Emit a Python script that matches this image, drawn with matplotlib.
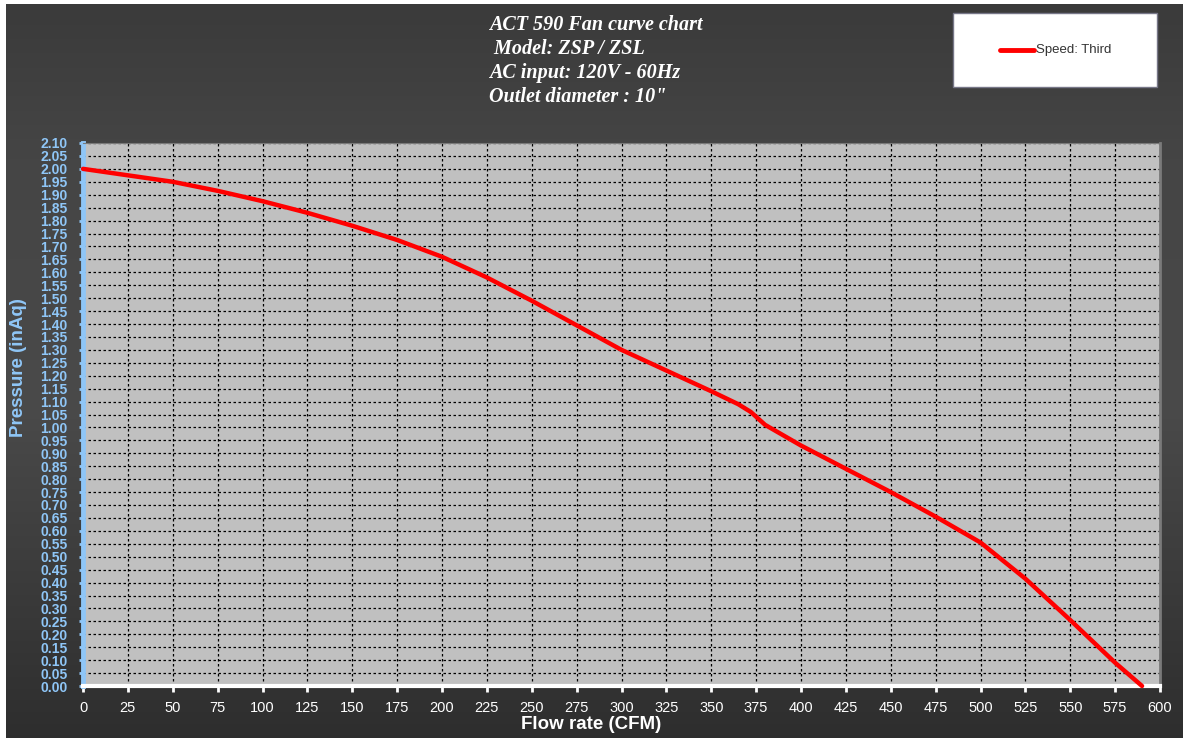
import numpy as np
import matplotlib.pyplot as plt
from matplotlib.patches import Rectangle

# fan curve values
flow = [0, 25, 50, 75, 100, 125, 150, 175, 200, 225, 250, 275, 300, 325, 350,
        365, 372, 380, 400, 425, 450, 475, 500, 525, 550, 575, 590]
pressure = [2.00, 1.975, 1.95, 1.915, 1.875, 1.83, 1.78, 1.725, 1.66, 1.58, 1.49,
            1.395, 1.30, 1.22, 1.14, 1.09, 1.06, 1.01, 0.93, 0.84, 0.75, 0.655,
            0.555, 0.415, 0.255, 0.09, 0.00]

x_ticks = list(range(0, 601, 25))
y_ticks = [round(v * 0.05, 2) for v in range(0, 43)]

title_lines = ["ACT 590 Fan curve chart", " Model: ZSP / ZSL",
               "AC input: 120V - 60Hz", "Outlet diameter : 10\""]

blue = '#8fc6f7'

fig = plt.figure(figsize=(11.83, 7.38), dpi=100, facecolor='white')

# dark gradient background
bg = fig.add_axes([6/1183, 0, 1 - 6/1183, 1 - 4/738])
grad = np.linspace(0, 1, 256).reshape(-1, 1)
shade = np.interp(grad, [0, 0.2, 0.55, 1], [0.23, 0.27, 0.29, 0.18])
bg.imshow(np.dstack([shade, shade, shade]), aspect='auto', extent=[0, 1, 0, 1])
bg.set_axis_off()

ax = fig.add_axes([83/1183, 1 - 686/738, (1160 - 83)/1183, (686 - 143)/738])
ax.set_facecolor('#c0c0c0')
ax.plot(flow, pressure, color='#ff0000', linewidth=3.2, solid_capstyle='round',
        zorder=5, clip_on=False, label='Speed: Third')

ax.set_xlim(0, 600)
ax.set_ylim(0, 2.10)
ax.set_xticks(x_ticks)
ax.set_yticks(y_ticks)
ax.set_yticklabels([f"{v:.2f}" for v in y_ticks])
ax.grid(True, color='black', linestyle=(0, (2, 2)), linewidth=0.9)
ax.set_axisbelow(True)

for lab in ax.get_yticklabels():
    lab.set_fontweight('bold')
ax.tick_params(axis='y', colors=blue, labelsize=10, length=3, width=2, pad=8)
ax.tick_params(axis='x', colors='white', labelsize=10.5, length=4, width=2, pad=7)
for lab in ax.get_xticklabels() + ax.get_yticklabels():
    lab.set_family('Liberation Sans')

ax.spines['left'].set_color(blue)
ax.spines['left'].set_linewidth(3.5)
ax.spines['bottom'].set_color('white')
ax.spines['bottom'].set_linewidth(3)
ax.spines['top'].set_color('#7a7a7a')
ax.spines['right'].set_color('#7a7a7a')
ax.spines['right'].set_linewidth(2)

ax.set_xlabel('Flow rate (CFM)', color='white', fontsize=13.5, fontweight='bold',
              family='Liberation Sans', labelpad=3)
ax.xaxis.set_label_coords(0.472, -0.055)
ax.set_ylabel('Pressure (inAq)', color=blue, fontsize=13.5, fontweight='bold',
              family='Liberation Sans')
ax.yaxis.set_label_coords(-0.052, 0.587)

# title block
for i, line in enumerate(title_lines):
    fig.text(489/1183, 1 - (25 + i * 24)/738, line, color='white', fontsize=14.5,
             family='Liberation Serif', fontweight='bold', style='italic',
             ha='left', va='center')

# legend box
fig.patches.append(Rectangle((953/1183, 1 - 87/738), 204/1183, 74/738,
                             transform=fig.transFigure, facecolor='white',
                             edgecolor='#777788', linewidth=1))
fig.add_artist(plt.Line2D([1000/1183, 1034/1183], [1 - 50/738, 1 - 50/738],
                          color='#ff0000', linewidth=3.5, solid_capstyle='round',
                          transform=fig.transFigure))
fig.text(1036/1183, 1 - 50/738, 'Speed: Third', color='#333333', fontsize=9.5,
         family='Liberation Sans', ha='left', va='center')

plt.savefig('out.png', dpi=100, facecolor='white')
